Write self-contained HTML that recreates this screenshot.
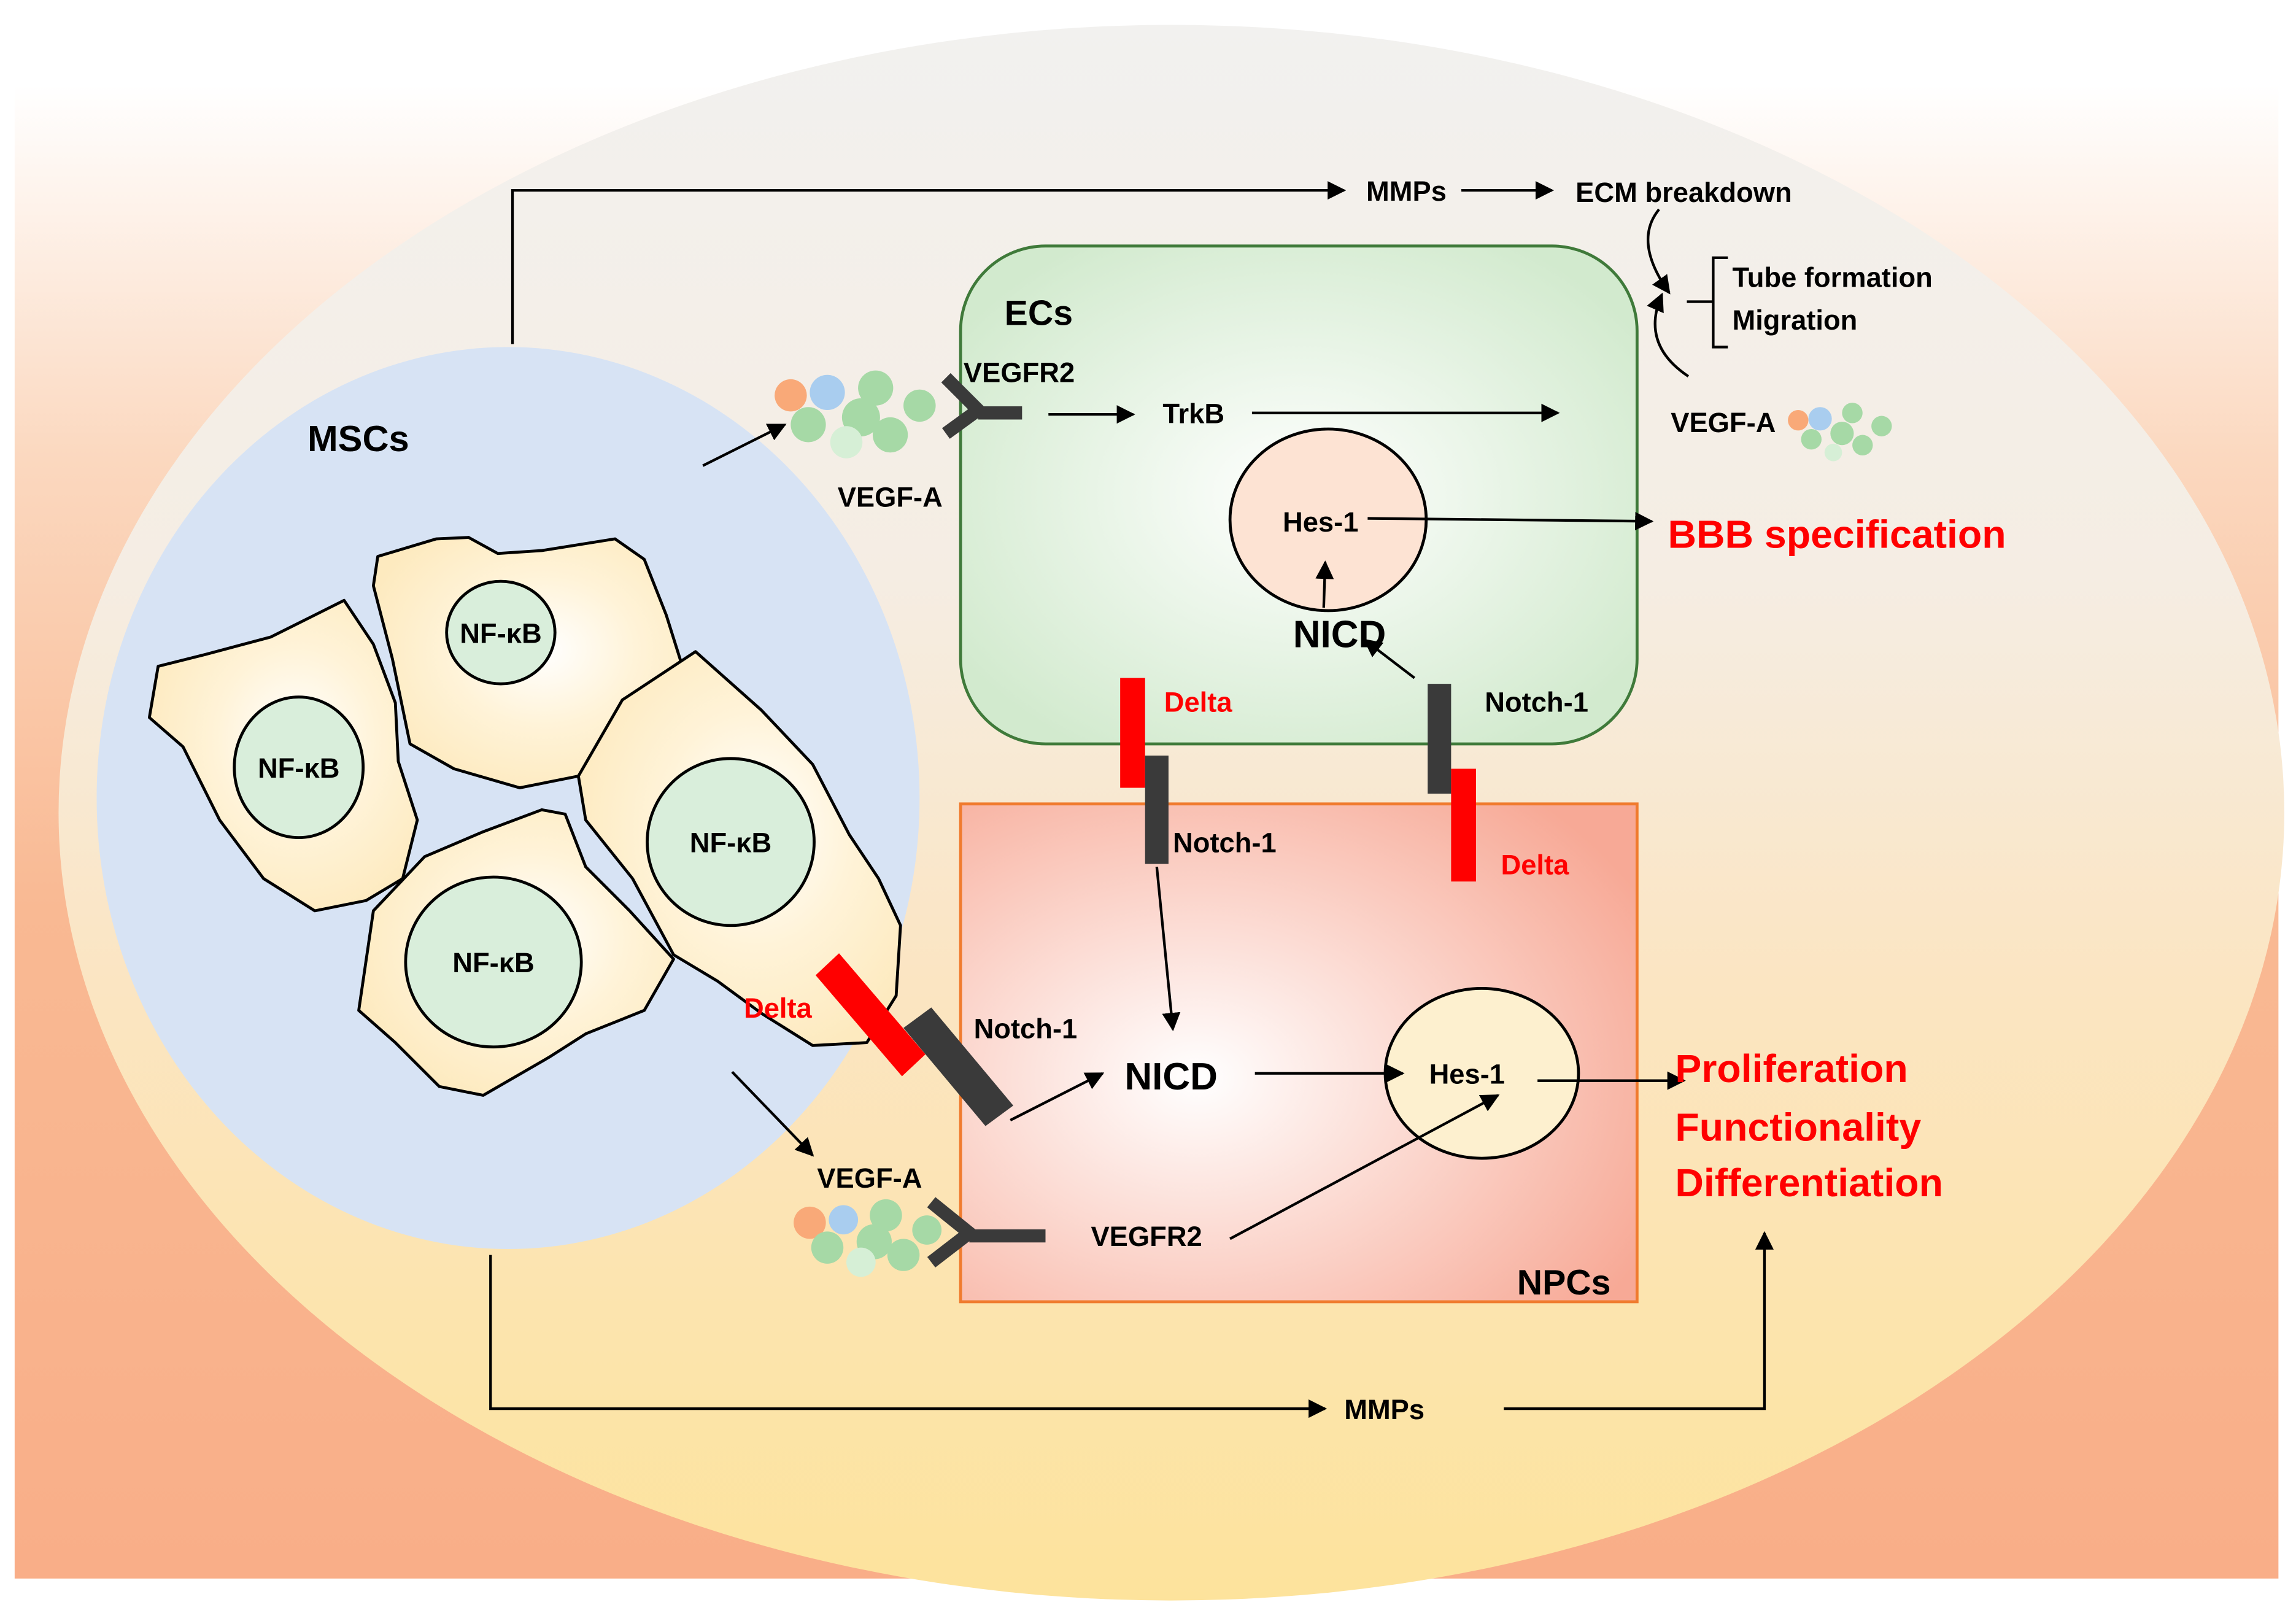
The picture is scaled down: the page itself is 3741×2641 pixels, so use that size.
<!DOCTYPE html>
<html><head><meta charset="utf-8"><style>html,body{margin:0;padding:0;background:#fff}svg{display:block}
text{font-family:"Liberation Sans Narrow","Liberation Sans",sans-serif;font-weight:bold}</style></head>
<body>
<svg width="3741" height="2641" viewBox="0 0 1568 1107" preserveAspectRatio="none" xmlns="http://www.w3.org/2000/svg">
<defs>
<linearGradient id="bg" x1="0" y1="0" x2="0" y2="1">
<stop offset="0" stop-color="#ffffff"/><stop offset="0.25" stop-color="#fbd8bf"/><stop offset="0.55" stop-color="#f9b993"/><stop offset="1" stop-color="#f9ae88"/></linearGradient>
<linearGradient id="ell" x1="0" y1="0" x2="0" y2="1">
<stop offset="0" stop-color="#f2f1ef"/><stop offset="0.35" stop-color="#f5ede3"/><stop offset="0.6" stop-color="#fbe5c3"/><stop offset="1" stop-color="#fde39c"/></linearGradient>
<radialGradient id="ec" cx="0.5" cy="0.5" r="0.6"><stop offset="0" stop-color="#ffffff"/><stop offset="1" stop-color="#d2eace"/></radialGradient>
<radialGradient id="np" cx="0.35" cy="0.55" r="0.75"><stop offset="0" stop-color="#ffffff"/><stop offset="1" stop-color="#f7a996"/></radialGradient>
<radialGradient id="cell" cx="0.55" cy="0.45" r="0.6"><stop offset="0" stop-color="#ffffff"/><stop offset="0.5" stop-color="#fff3d8"/><stop offset="1" stop-color="#fdeabf"/></radialGradient>
<marker id="ah" viewBox="0 0 10 10" refX="9" refY="5" markerWidth="7" markerHeight="7" orient="auto"><path d="M0,0 L10,5 L0,10 z" fill="#000"/></marker>
</defs>
<rect x="10" y="58" width="1546" height="1020" fill="url(#bg)"/>
<ellipse cx="800" cy="555" rx="760" ry="538" fill="url(#ell)"/>
<ellipse cx="347" cy="545" rx="281" ry="308" fill="#d7e3f4"/>

<!-- cells -->
<g stroke="#000" stroke-width="2" fill="url(#cell)" stroke-linejoin="round">
<path d="M108,455 L140,447 L185,435 L235,410 L255,440 L270,480 L272,520 L285,560 L275,600 L250,615 L215,622 L180,600 L150,560 L125,510 L102,490 Z"/>
<path d="M258,380 L298,368 L320,367 L340,378 L370,376 L420,368 L440,382 L455,420 L466,455 L450,490 L420,510 L395,530 L355,538 L310,525 L280,508 L268,450 L255,400 Z"/>
<path d="M395,530 L425,478 L475,445 L520,485 L555,522 L580,570 L600,600 L615,632 L612,680 L592,712 L555,714 L520,692 L490,670 L460,652 L432,600 L400,560 Z"/>
<path d="M245,690 L255,622 L290,585 L330,568 L370,553 L386,556 L400,592 L430,622 L460,655 L440,690 L400,706 L375,722 L330,748 L300,742 L270,712 Z"/>
</g>
<g stroke="#000" stroke-width="2" fill="#d9eedb">
<ellipse cx="342" cy="432" rx="37" ry="35"/>
<ellipse cx="204" cy="524" rx="44" ry="48"/>
<ellipse cx="499" cy="575" rx="57" ry="57"/>
<ellipse cx="337" cy="657" rx="60" ry="58"/>
</g>
<g font-size="19" text-anchor="middle" fill="#000">
<text x="342" y="439">NF-κB</text><text x="204" y="531">NF-κB</text><text x="499" y="582">NF-κB</text><text x="337" y="664">NF-κB</text>
</g>
<text x="210" y="308" font-size="25">MSCs</text>

<!-- ECs -->
<rect x="656" y="168" width="462" height="340" rx="58" fill="url(#ec)" stroke="#3f7a3a" stroke-width="2"/>
<text x="686" y="222" font-size="24">ECs</text>
<!-- NPCs -->
<rect x="656" y="549" width="462" height="340" fill="url(#np)" stroke="#f07b2e" stroke-width="2"/>
<text x="1036" y="884" font-size="24">NPCs</text>

<!-- ligand clusters -->
<g>
<circle cx="540" cy="270" r="11" fill="#f9a978"/><circle cx="565" cy="268" r="12" fill="#a9cdef"/>
<circle cx="598" cy="265" r="12" fill="#a6d9a6"/><circle cx="628" cy="277" r="11" fill="#a6d9a6"/>
<circle cx="552" cy="290" r="12" fill="#a6d9a6"/><circle cx="588" cy="285" r="13" fill="#a6d9a6"/>
<circle cx="578" cy="302" r="11" fill="#d6efd6"/><circle cx="608" cy="297" r="12" fill="#a6d9a6"/>
</g>
<g>
<circle cx="1228" cy="287" r="7" fill="#f9a978"/><circle cx="1243" cy="286" r="8" fill="#a9cdef"/>
<circle cx="1265" cy="282" r="7" fill="#a6d9a6"/><circle cx="1285" cy="291" r="7" fill="#a6d9a6"/>
<circle cx="1237" cy="300" r="7" fill="#a6d9a6"/><circle cx="1258" cy="296" r="8" fill="#a6d9a6"/>
<circle cx="1252" cy="309" r="6" fill="#d6efd6"/><circle cx="1272" cy="304" r="7" fill="#a6d9a6"/>
</g>
<g>
<circle cx="553" cy="835" r="11" fill="#f9a978"/><circle cx="576" cy="833" r="10" fill="#a9cdef"/>
<circle cx="605" cy="830" r="11" fill="#a6d9a6"/><circle cx="633" cy="840" r="10" fill="#a6d9a6"/>
<circle cx="565" cy="852" r="11" fill="#a6d9a6"/><circle cx="597" cy="848" r="12" fill="#a6d9a6"/>
<circle cx="588" cy="862" r="10" fill="#d6efd6"/><circle cx="617" cy="857" r="11" fill="#a6d9a6"/>
</g>

<!-- receptors -->
<g stroke="#3a3a3a" stroke-width="9" fill="none">
<path d="M646,258 L668,280 L646,296"/><line x1="668" y1="282" x2="698" y2="282"/>
<path d="M636,821 L662,842 L636,862"/><line x1="662" y1="844" x2="714" y2="844"/>
</g>

<!-- Delta/Notch bars -->
<rect x="765" y="463" width="17" height="75" fill="#f00"/>
<rect x="782" y="516" width="16" height="74" fill="#3a3a3a"/>
<rect x="975" y="467" width="16" height="75" fill="#3a3a3a"/>
<rect x="991" y="525" width="17" height="77" fill="#f00"/>
<polygon points="557,666 573,651 632,720 616,735" fill="#f00"/>
<polygon points="617,702 636,688 692,755 673,769" fill="#3a3a3a"/>

<!-- Hes-1 circles -->
<ellipse cx="907" cy="355" rx="67" ry="62" fill="#fde3d3" stroke="#000" stroke-width="2"/>
<ellipse cx="1012" cy="733" rx="66" ry="58" fill="#fdf0cf" stroke="#000" stroke-width="2"/>

<!-- arrows -->
<g stroke="#000" stroke-width="1.8" fill="none" marker-end="url(#ah)">
<polyline points="350,235 350,130 918,130"/>
<line x1="998" y1="130" x2="1060" y2="130"/>
<path d="M1133,143 Q1115,165 1140,200"/>
<path d="M1153,257 Q1120,235 1135,201"/>
<line x1="480" y1="318" x2="536" y2="290"/>
<line x1="716" y1="283" x2="774" y2="283"/>
<line x1="855" y1="282" x2="1064" y2="282"/>
<line x1="934" y1="354" x2="1128" y2="356"/>
<line x1="904" y1="415" x2="905" y2="384"/>
<line x1="966" y1="463" x2="932" y2="437"/>
<line x1="790" y1="592" x2="801" y2="703"/>
<line x1="690" y1="765" x2="753" y2="733"/>
<line x1="857" y1="733" x2="958" y2="733"/>
<line x1="1050" y1="738" x2="1150" y2="738"/>
<line x1="840" y1="846" x2="1023" y2="748"/>
<line x1="500" y1="732" x2="555" y2="789"/>
<polyline points="335,857 335,962 905,962"/>
<polyline points="1027,962 1205,962 1205,842"/>
</g>
<path d="M1180,176 L1170,176 L1170,237 L1180,237 M1170,206 L1152,206" stroke="#000" stroke-width="1.8" fill="none"/>

<!-- labels -->
<g font-size="19" fill="#000">
<text x="933" y="137">MMPs</text>
<text x="1076" y="138">ECM breakdown</text>
<text x="1183" y="196">Tube formation</text>
<text x="1183" y="225">Migration</text>
<text x="658" y="261">VEGFR2</text>
<text x="794" y="289">TrkB</text>
<text x="1141" y="295">VEGF-A</text>
<text x="572" y="346">VEGF-A</text>
<text x="876" y="363">Hes-1</text>
<text x="1014" y="486">Notch-1</text>
<text x="801" y="582">Notch-1</text>
<text x="665" y="709">Notch-1</text>
<text x="976" y="740">Hes-1</text>
<text x="558" y="811">VEGF-A</text>
<text x="745" y="851">VEGFR2</text>
<text x="918" y="969">MMPs</text>
</g>
<g font-size="19" fill="#f00">
<text x="795" y="486">Delta</text>
<text x="1025" y="597">Delta</text>
<text x="508" y="695">Delta</text>
</g>
<text x="883" y="442" font-size="26" fill="#000">NICD</text>
<text x="768" y="744" font-size="26" fill="#000">NICD</text>
<text x="1139" y="374" font-size="27" fill="#f00">BBB specification</text>
<g font-size="27" fill="#f00">
<text x="1144" y="739">Proliferation</text>
<text x="1144" y="779">Functionality</text>
<text x="1144" y="817">Differentiation</text>
</g>
</svg>
</body></html>
